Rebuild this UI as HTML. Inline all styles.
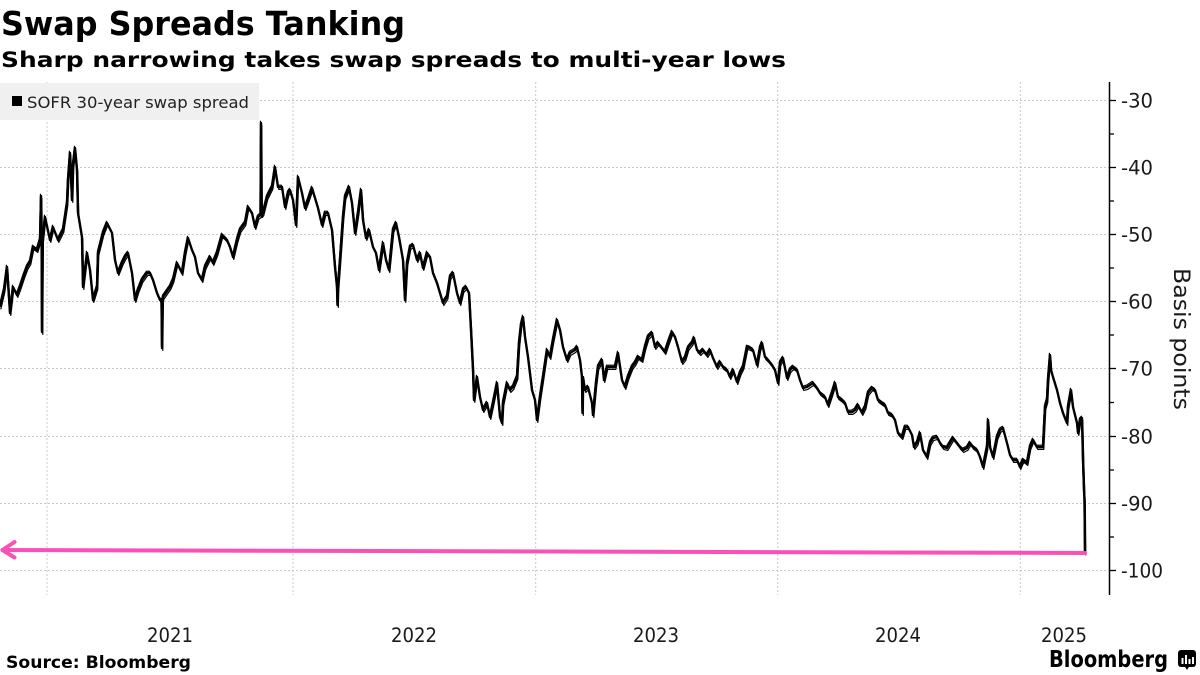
<!DOCTYPE html>
<html>
<head>
<meta charset="utf-8">
<style>
  html,body{margin:0;padding:0;background:#fff;}
  svg{display:block;}
  text{font-family:"DejaVu Sans","Liberation Sans",sans-serif;}
</style>
</head>
<body>
<svg width="1200" height="675" viewBox="0 0 1200 675" xmlns="http://www.w3.org/2000/svg">
  <rect x="0" y="0" width="1200" height="675" fill="#fff"/>

  <!-- Title / subtitle -->
  <text x="1" y="35" font-size="33" font-weight="bold" fill="#000" textLength="404" lengthAdjust="spacingAndGlyphs">Swap Spreads Tanking</text>
  <text x="1" y="67" font-size="21.5" font-weight="bold" fill="#000" textLength="785" lengthAdjust="spacingAndGlyphs">Sharp narrowing takes swap spreads to multi-year lows</text>

  <!-- horizontal gridlines -->
  <g stroke="#c8c8c8" stroke-width="1" stroke-dasharray="2,2">
    <line x1="0" y1="100.5" x2="1109" y2="100.5"/>
    <line x1="0" y1="167.5" x2="1109" y2="167.5"/>
    <line x1="0" y1="234.5" x2="1109" y2="234.5"/>
    <line x1="0" y1="301.5" x2="1109" y2="301.5"/>
    <line x1="0" y1="368.5" x2="1109" y2="368.5"/>
    <line x1="0" y1="436.5" x2="1109" y2="436.5"/>
    <line x1="0" y1="503.5" x2="1109" y2="503.5"/>
    <line x1="0" y1="570.5" x2="1109" y2="570.5"/>
  </g>
  <!-- vertical gridlines -->
  <g stroke="#c8c8c8" stroke-width="1" stroke-dasharray="2,2">
    <line x1="47" y1="82" x2="47" y2="595"/>
    <line x1="293" y1="82" x2="293" y2="595"/>
    <line x1="535.7" y1="82" x2="535.7" y2="595"/>
    <line x1="777.7" y1="82" x2="777.7" y2="595"/>
    <line x1="1020.3" y1="82" x2="1020.3" y2="595"/>
  </g>

  <!-- legend -->
  <rect x="0" y="83" width="259" height="37" fill="#f0f0f0"/>
  <rect x="12" y="96" width="10" height="10" fill="#000"/>
  <text x="27" y="108" font-size="16" fill="#222" textLength="222" lengthAdjust="spacingAndGlyphs">SOFR 30-year swap spread</text>

  <!-- series -->
  <defs>
    <polyline id="ser" points="0,307 4,290 7,267 10,313 13,287 17,295 20,287 24,275 27,267 30,262 33,247 37,250 40,240 41,196 41.6,240 42,332 42.6,240 45,217 50,240 53,227 58,240 63,230 67,203 68,180 70,153 72,200 73,165 75,148 77,170 78,213 82,237 83,287 87,253 90,270 93,300 97,287 98,253 103,233 107,223 112,233 115,260 118,273 122,263 125,257 128,253 132,273 135,300 138,290 142,280 147,273 150,273 153,280 157,293 160,300 161.5,300 162,348 162.6,300 163,297 170,287 173,280 177,263 182,273 185,253 188,238 192,250 195,257 198,273 202,280 205,267 210,257 213,263 217,253 222,235 227,240 230,247 233,257 237,240 240,230 245,223 248,207 252,213 255,227 258,217 260.5,215 261,123 261.6,215 263,213 267,197 272,187 275,167 278,187 282,187 285,207 288,193 290,190 293,200 296,225 298,177 302,193 305,208 308,200 312,188 315,198 318,208 322,225 325,213 328,213 332,230 335,267 337,287 337.5,305 338,287 340,260 343,217 345,197 349,187 352,203 355,233 358,213 361,190 363,220 366,238 369,230 373,247 376,253 379,270 383,243 386,260 389,270 393,230 396,223 399,237 403,260 405,300 407,263 410,247 413,245 417,260 420,253 423,268 427,253 430,257 433,273 437,283 440,293 443,303 447,297 450,277 453,273 457,293 460,303 463,290 466,287 469,293 471,330 473,370 474,400 477,377 480,397 483,410 487,403 490,417 493,403 497,383 500,417 502,423 503,403 507,383 510,390 513,387 517,377 519,343 521,325 523,317 525,337 528,357 532,390 535,400 537,420 540,397 543,377 547,350 550,357 553,340 557,320 560,330 563,347 567,360 570,353 575,350 577,347 580,360 582,377 582.5,413 583,377 585,390 588,387 592,403 593,415 596,383 598,367 602,360 604,380 607,367 612,367 615,367 618,353 622,380 625,387 628,377 632,367 635,363 638,357 642,360 645,347 648,337 652,333 655,347 658,343 662,348 665,352 668,343 672,332 675,337 678,347 682,362 685,358 688,348 692,343 694,338 697,350 700,353 703,350 707,355 710,350 713,358 717,367 720,362 723,367 727,370 730,377 733,370 737,382 740,373 743,367 747,347 750,348 753,350 757,365 760,348 762,343 765,357 768,360 772,365 775,370 778,383 780,363 783,358 787,378 790,370 793,367 797,370 800,380 803,388 807,387 810,385 813,383 817,388 820,393 825,397 828,405 832,393 835,383 838,397 842,400 845,403 848,412 852,412 855,410 858,405 862,413 865,407 868,393 872,388 875,390 878,400 882,403 885,405 888,413 892,415 895,420 898,433 902,437 905,427 908,427 912,435 914,447 917,443 920,433 923,450 927,457 930,443 933,438 937,437 940,443 943,447 947,448 950,443 953,438 957,443 960,447 963,450 967,448 970,443 973,447 977,450 980,457 983,467 987,447 988,420 990,447 993,457 997,437 1000,430 1003,428 1007,443 1010,455 1013,460 1017,460 1020,467 1023,460 1027,463 1030,447 1033,440 1037,447 1040,447 1043,447 1045,407 1047,400 1048,380 1050,355 1051,370 1053,377 1057,390 1060,403 1063,413 1067,423 1068,407 1071,390 1073,407 1077,423 1078,433 1080,420 1082,418 1083,460 1084,490 1084.5,500 1085,553"/>
  </defs>
  <g fill="none" stroke="#000" stroke-linejoin="round">
    <use href="#ser" stroke-width="2.4"/>
    <use href="#ser" stroke-width="1.2" transform="translate(0.8,2.4)"/>
    <use href="#ser" stroke-width="1.1" transform="translate(-0.6,-1.8)"/>
  </g>

  <!-- pink annotation arrow -->
  <g stroke="#fb50b6" stroke-width="4" fill="none" stroke-linecap="round" stroke-linejoin="round">
    <line x1="2.5" y1="550" x2="1085" y2="553"/>
    <polyline points="14.5,542 2.5,550 14.5,557.5"/>
  </g>

  <!-- right axis -->
  <line x1="1109.5" y1="82" x2="1109.5" y2="595" stroke="#000" stroke-width="1.5"/>
  <g stroke="#000" stroke-width="1.3">
    <line x1="1109.5" y1="100.5" x2="1116" y2="100.5"/>
    <line x1="1109.5" y1="167.5" x2="1116" y2="167.5"/>
    <line x1="1109.5" y1="234.5" x2="1116" y2="234.5"/>
    <line x1="1109.5" y1="301.5" x2="1116" y2="301.5"/>
    <line x1="1109.5" y1="368.5" x2="1116" y2="368.5"/>
    <line x1="1109.5" y1="436.5" x2="1116" y2="436.5"/>
    <line x1="1109.5" y1="503.5" x2="1116" y2="503.5"/>
    <line x1="1109.5" y1="570.5" x2="1116" y2="570.5"/>
    <line x1="1109.5" y1="134" x2="1114" y2="134"/>
    <line x1="1109.5" y1="201" x2="1114" y2="201"/>
    <line x1="1109.5" y1="268" x2="1114" y2="268"/>
    <line x1="1109.5" y1="335" x2="1114" y2="335"/>
    <line x1="1109.5" y1="402.5" x2="1114" y2="402.5"/>
    <line x1="1109.5" y1="470" x2="1114" y2="470"/>
    <line x1="1109.5" y1="537" x2="1114" y2="537"/>
  </g>
  <g font-size="19.5" fill="#1a1a1a">
    <text x="1121" y="107.5" textLength="32" lengthAdjust="spacingAndGlyphs">-30</text>
    <text x="1121" y="174.5" textLength="32" lengthAdjust="spacingAndGlyphs">-40</text>
    <text x="1121" y="241.5" textLength="32" lengthAdjust="spacingAndGlyphs">-50</text>
    <text x="1121" y="308.5" textLength="32" lengthAdjust="spacingAndGlyphs">-60</text>
    <text x="1121" y="375.5" textLength="32" lengthAdjust="spacingAndGlyphs">-70</text>
    <text x="1121" y="443.5" textLength="32" lengthAdjust="spacingAndGlyphs">-80</text>
    <text x="1121" y="510.5" textLength="32" lengthAdjust="spacingAndGlyphs">-90</text>
    <text x="1121" y="577.5" textLength="42" lengthAdjust="spacingAndGlyphs">-100</text>
  </g>
  <text transform="translate(1174,268) rotate(90)" font-size="22.5" fill="#1a1a1a" textLength="142" lengthAdjust="spacingAndGlyphs">Basis points</text>

  <!-- x axis labels -->
  <g font-size="19.5" fill="#1a1a1a" text-anchor="middle">
    <text x="170" y="642" textLength="46" lengthAdjust="spacingAndGlyphs">2021</text>
    <text x="414" y="642" textLength="46" lengthAdjust="spacingAndGlyphs">2022</text>
    <text x="656" y="642" textLength="46" lengthAdjust="spacingAndGlyphs">2023</text>
    <text x="898" y="642" textLength="46" lengthAdjust="spacingAndGlyphs">2024</text>
    <text x="1064" y="642" textLength="46" lengthAdjust="spacingAndGlyphs">2025</text>
  </g>

  <!-- footer -->
  <text x="6" y="668" font-size="16.5" font-weight="bold" fill="#000" textLength="185" lengthAdjust="spacingAndGlyphs">Source: Bloomberg</text>
  <text x="1049" y="667" font-size="23" font-weight="bold" fill="#000" textLength="119" lengthAdjust="spacingAndGlyphs">Bloomberg</text>
  <g>
    <rect x="1178" y="650" width="18" height="17" rx="3" fill="#000"/>
    <polygon points="1184.5,666 1189.5,666 1187,670" fill="#000"/>
    <rect x="1181.5" y="658" width="2" height="6" fill="#fff"/>
    <rect x="1185" y="655" width="2" height="9" fill="#fff"/>
    <rect x="1188.5" y="659" width="2" height="5" fill="#fff"/>
    <rect x="1192" y="657" width="2" height="7" fill="#fff"/>
  </g>
</svg>
</body>
</html>
